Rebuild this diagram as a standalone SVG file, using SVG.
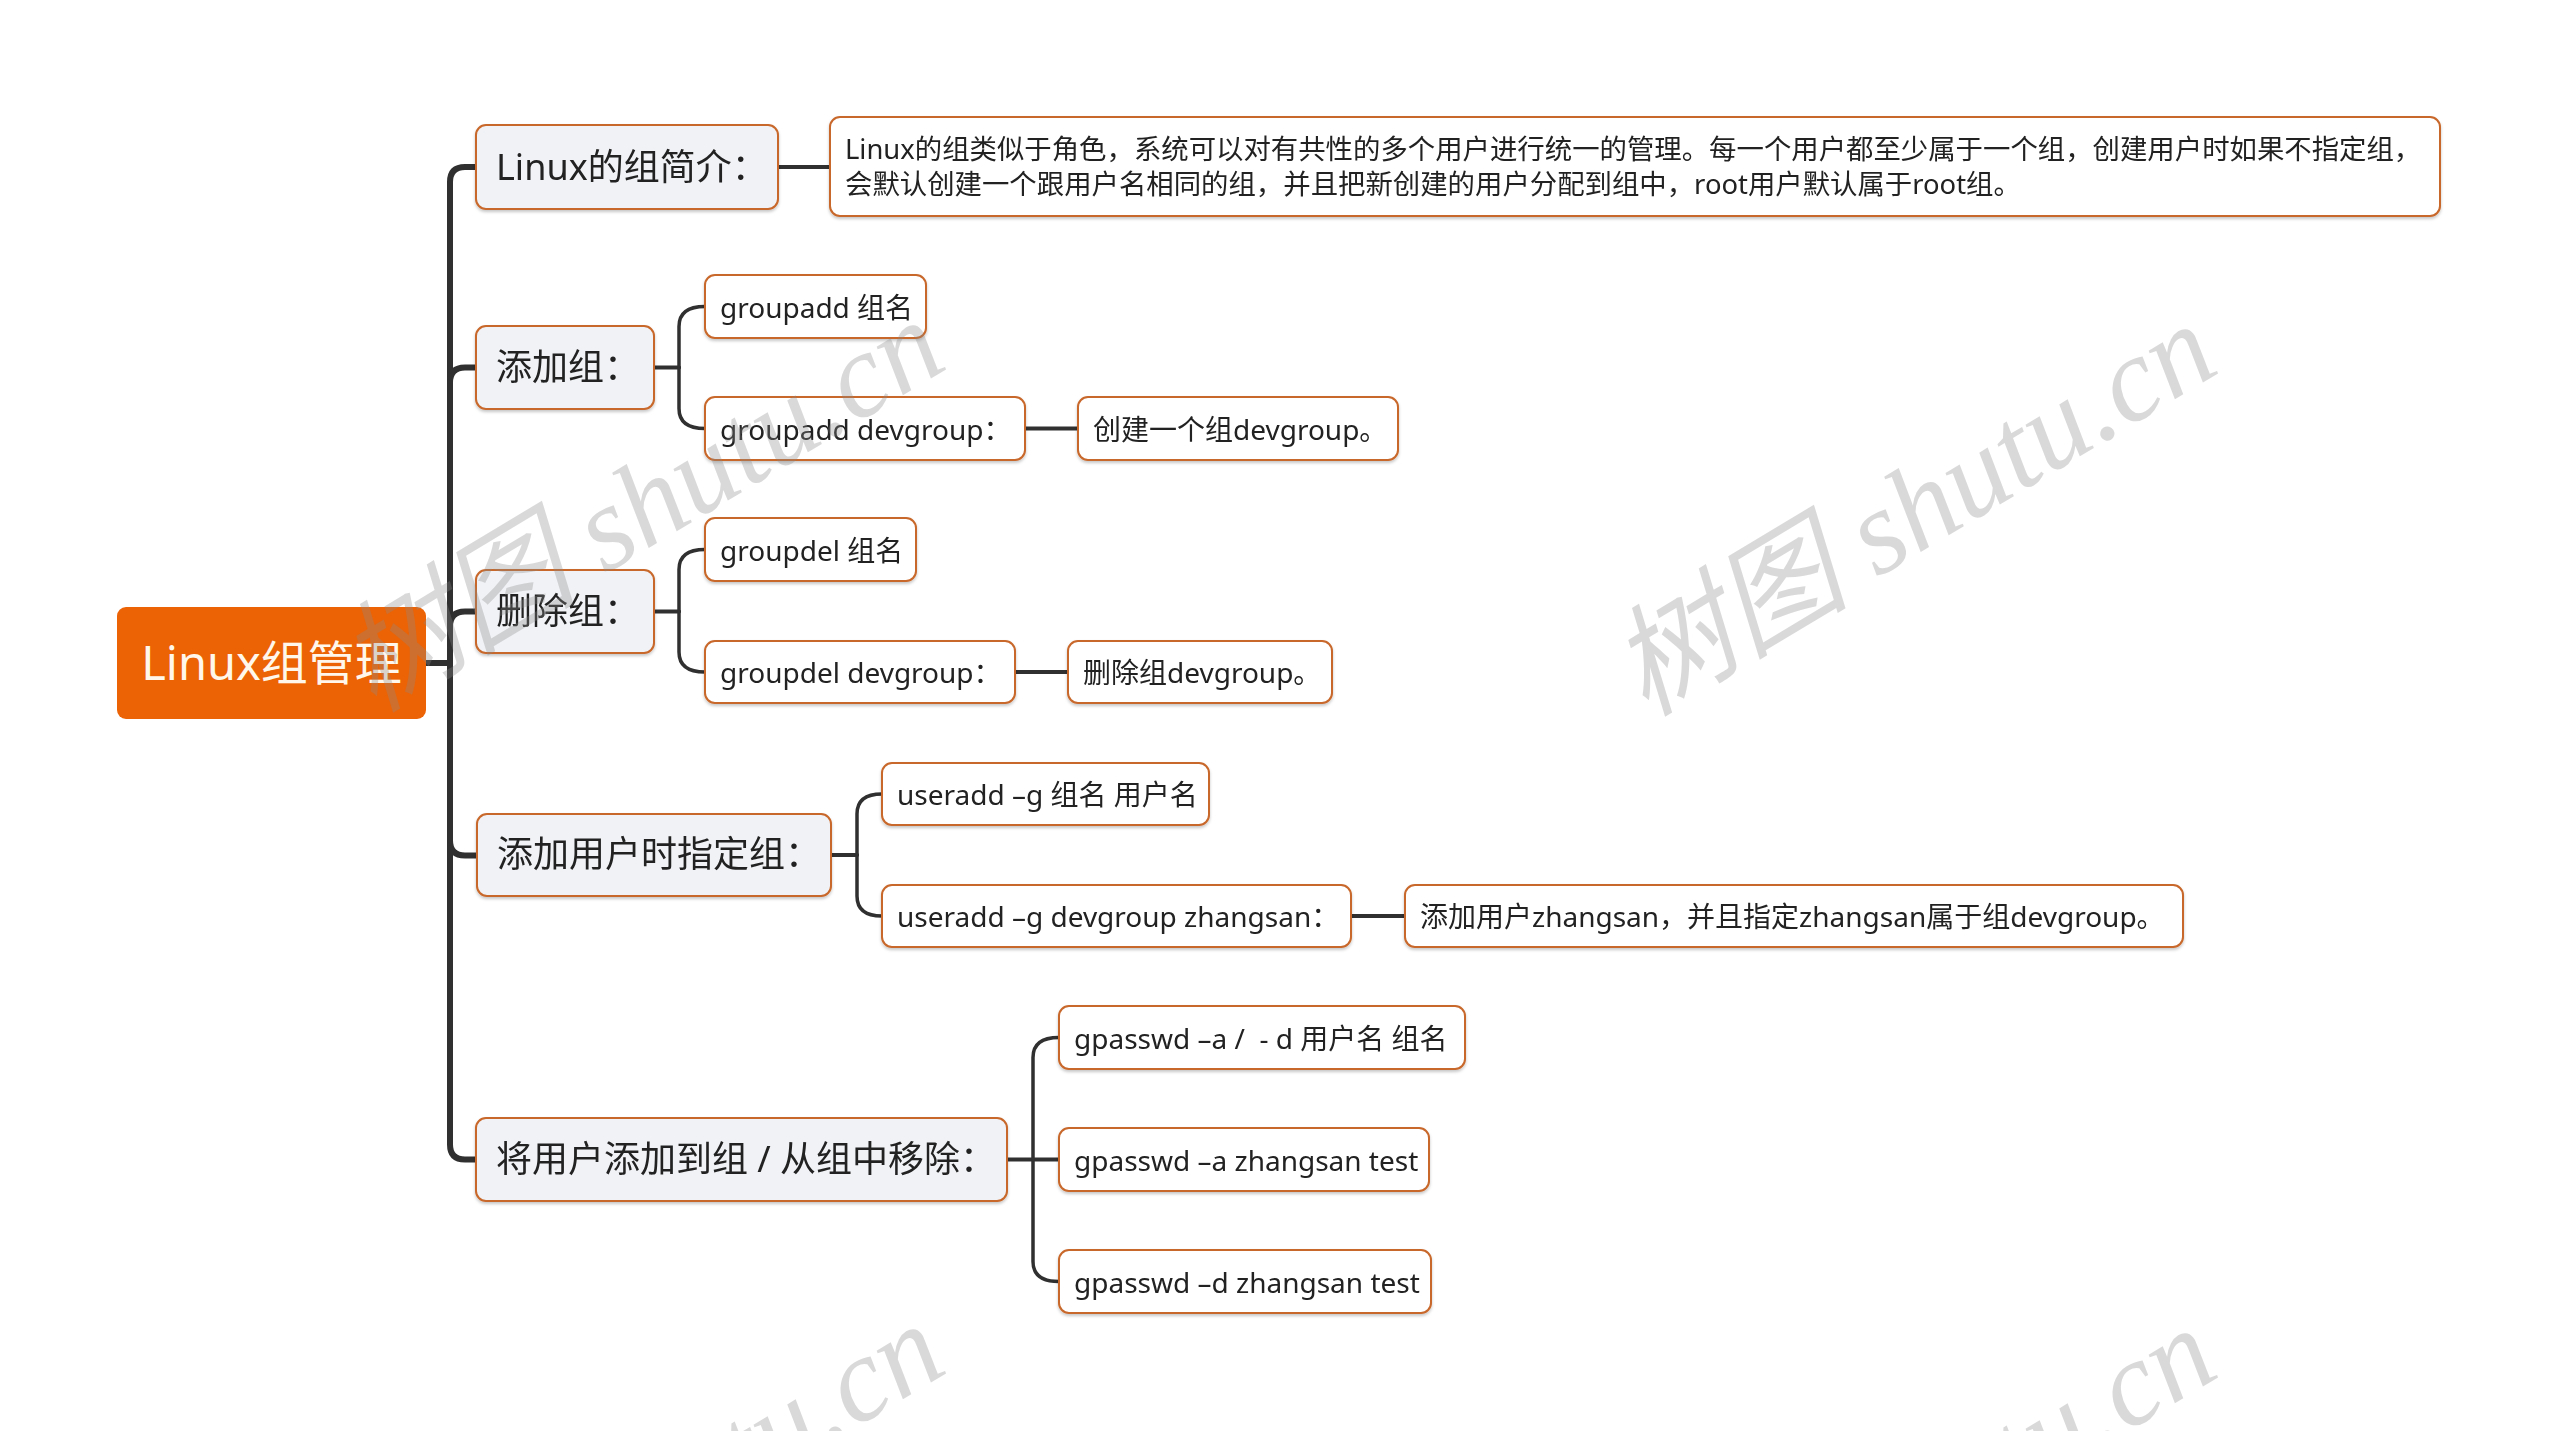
<svg xmlns="http://www.w3.org/2000/svg" width="2560" height="1431" viewBox="0 0 2560 1431">
<defs>
<filter id="sh" x="-5%" y="-20%" width="110%" height="150%">
<feDropShadow dx="0" dy="2" stdDeviation="1.5" flood-color="#000" flood-opacity="0.22"/>
</filter>
</defs>
<style>
text{font-family:"Noto Sans","Noto Sans CJK SC",sans-serif;fill:#222}
.root rect{fill:#EC6305}
.root text{fill:#FFF7EB;font-size:47px}
.l2 rect{fill:#F0F2F5;stroke:#C8672A;stroke-width:2}
.l2 text{font-size:36px}
.leaf rect{fill:#FFFFFF;stroke:#C8672A;stroke-width:2}
.leaf text{font-size:28px}
#desc text{font-size:27.4px}
.c{fill:none;stroke:#303030;stroke-linecap:round;stroke-linejoin:round}
.spine{stroke-width:6}
.br{stroke-width:3.5}
.hz{stroke-width:4}
.wm{font-family:"Liberation Serif","Noto Sans CJK SC",serif;font-style:italic;font-size:120px;fill:#8a8a8a;fill-opacity:0.32}
</style>
<rect width="2560" height="1431" fill="#FFFFFF"/>

<g id="connectors">
<path class="c spine" d="M426,663 H450 V182 Q450,167 465,167 H476"/>
<path class="c spine" d="M426,663 H450 V382.5 Q450,367.5 465,367.5 H476"/>
<path class="c spine" d="M426,663 H450 V626.5 Q450,611.5 465,611.5 H476"/>
<path class="c spine" d="M426,663 H450 V840.5 Q450,855.5 465,855.5 H476"/>
<path class="c spine" d="M426,663 H450 V1144.5 Q450,1159.5 465,1159.5 H476"/>
<path class="c hz" d="M778,167 H830"/>
<path class="c hz" d="M654,367.5 H679"/>
<path class="c br" d="M679,367.5 V326.5 Q679,306.5 705,306.5"/>
<path class="c br" d="M679,367.5 V408.5 Q679,428.5 705,428.5"/>
<path class="c hz" d="M1025,428.5 H1078"/>
<path class="c hz" d="M654,611.5 H679"/>
<path class="c br" d="M679,611.5 V569.5 Q679,549.5 705,549.5"/>
<path class="c br" d="M679,611.5 V652 Q679,672 705,672"/>
<path class="c hz" d="M1015,672 H1068"/>
<path class="c hz" d="M831,855 H857"/>
<path class="c br" d="M857,855 V814 Q857,794 882,794"/>
<path class="c br" d="M857,855 V896 Q857,916 882,916"/>
<path class="c hz" d="M1351,916 H1405"/>
<path class="c hz" d="M1007,1159.5 H1059"/>
<path class="c br" d="M1033,1159.5 V1057.5 Q1033,1037.5 1059,1037.5"/>
<path class="c br" d="M1033,1159.5 V1261.5 Q1033,1281.5 1059,1281.5"/>
</g>

<g id="root" class="root">
<rect x="117" y="607" width="309" height="112" rx="9"/>
<text x="271.5" y="680" text-anchor="middle">Linux组管理</text>
</g>

<g id="n1" class="l2" filter="url(#sh)">
<rect x="476" y="125" width="302" height="84" rx="10"/>
<text x="496" y="180">Linux的组简介：</text>
</g>
<g id="desc" class="leaf" filter="url(#sh)">
<rect x="830" y="117" width="1610" height="99" rx="10"/>
<text x="845" y="159">Linux的组类似于角色，系统可以对有共性的多个用户进行统一的管理。每一个用户都至少属于一个组，创建用户时如果不指定组，</text>
<text x="845" y="194">会默认创建一个跟用户名相同的组，并且把新创建的用户分配到组中，root用户默认属于root组。</text>
</g>

<g id="n2" class="l2" filter="url(#sh)">
<rect x="476" y="326" width="178" height="83" rx="10"/>
<text x="496" y="380">添加组：</text>
</g>
<g id="l1" class="leaf" filter="url(#sh)">
<rect x="705" y="275" width="221" height="63" rx="10"/>
<text x="720" y="318">groupadd 组名</text>
</g>
<g id="l2" class="leaf" filter="url(#sh)">
<rect x="705" y="397" width="320" height="63" rx="10"/>
<text x="720" y="440">groupadd devgroup：</text>
</g>
<g id="l3" class="leaf" filter="url(#sh)">
<rect x="1078" y="397" width="320" height="63" rx="10"/>
<text x="1093" y="440">创建一个组devgroup。</text>
</g>

<g id="n3" class="l2" filter="url(#sh)">
<rect x="476" y="570" width="178" height="83" rx="10"/>
<text x="496" y="624">删除组：</text>
</g>
<g id="l4" class="leaf" filter="url(#sh)">
<rect x="705" y="518" width="211" height="63" rx="10"/>
<text x="720" y="561">groupdel 组名</text>
</g>
<g id="l5" class="leaf" filter="url(#sh)">
<rect x="705" y="641" width="310" height="62" rx="10"/>
<text x="720" y="683">groupdel devgroup：</text>
</g>
<g id="l6" class="leaf" filter="url(#sh)">
<rect x="1068" y="641" width="264" height="62" rx="10"/>
<text x="1083" y="683">删除组devgroup。</text>
</g>

<g id="n4" class="l2" filter="url(#sh)">
<rect x="477" y="814" width="354" height="82" rx="10"/>
<text x="497" y="867">添加用户时指定组：</text>
</g>
<g id="l7" class="leaf" filter="url(#sh)">
<rect x="882" y="763" width="327" height="62" rx="10"/>
<text x="897" y="805">useradd –g 组名 用户名</text>
</g>
<g id="l8" class="leaf" filter="url(#sh)">
<rect x="882" y="885" width="469" height="62" rx="10"/>
<text x="897" y="927">useradd –g devgroup zhangsan：</text>
</g>
<g id="l9" class="leaf" filter="url(#sh)">
<rect x="1405" y="885" width="778" height="62" rx="10"/>
<text x="1420" y="927">添加用户zhangsan，并且指定zhangsan属于组devgroup。</text>
</g>

<g id="n5" class="l2" filter="url(#sh)">
<rect x="476" y="1118" width="531" height="83" rx="10"/>
<text x="496" y="1172">将用户添加到组 / 从组中移除：</text>
</g>
<g id="l10" class="leaf" filter="url(#sh)">
<rect x="1059" y="1006" width="406" height="63" rx="10"/>
<text x="1074" y="1049" xml:space="preserve">gpasswd –a /  - d 用户名 组名</text>
</g>
<g id="l11" class="leaf" filter="url(#sh)">
<rect x="1059" y="1128" width="370" height="63" rx="10"/>
<text x="1074" y="1171">gpasswd –a zhangsan test</text>
</g>
<g id="l12" class="leaf" filter="url(#sh)">
<rect x="1059" y="1250" width="372" height="63" rx="10"/>
<text x="1074" y="1293">gpasswd –d zhangsan test</text>
</g>

<g id="watermark">
<text class="wm" text-anchor="middle" transform="translate(662,540) rotate(-31)">树图 shutu.cn</text>
<text class="wm" text-anchor="middle" transform="translate(1934,544) rotate(-31)">树图 shutu.cn</text>
<text class="wm" text-anchor="middle" transform="translate(662,1544) rotate(-31)">树图 shutu.cn</text>
<text class="wm" text-anchor="middle" transform="translate(1934,1548) rotate(-31)">树图 shutu.cn</text>
</g>
</svg>
